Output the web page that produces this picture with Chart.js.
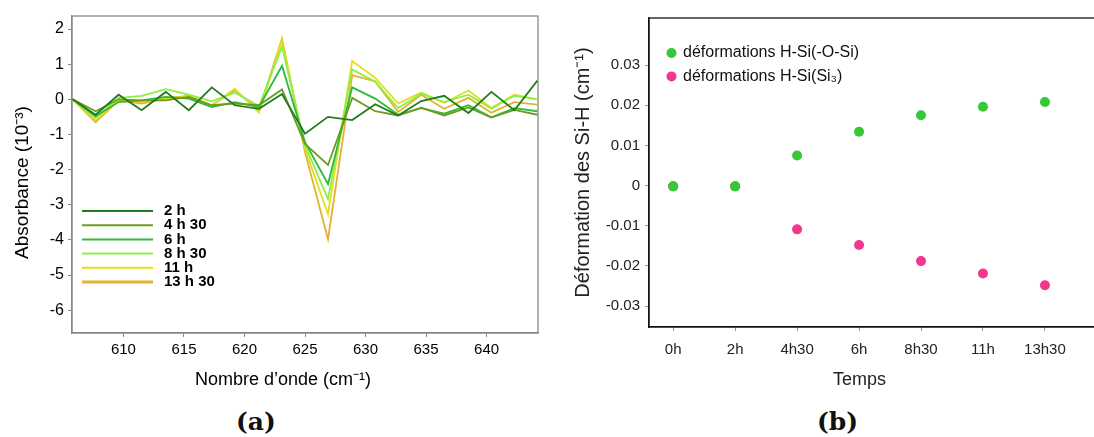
<!DOCTYPE html>
<html>
<head>
<meta charset="utf-8">
<script src="https://cdn.jsdelivr.net/npm/chart.js@4"></script>
<style>
  html, body { margin: 0; padding: 0; background: #fff; overflow: hidden; }
  body { width: 1094px; height: 437px; position: relative; }
  canvas { position: absolute; top: 0; }
  #chartA { left: 0; }
  #chartB { left: 560px; }
  .tag { position: absolute; top: 407px; font-family: "DejaVu Serif", serif; font-weight: bold; font-size: 25px; color: #111; }
</style>
</head>
<body>
<canvas id="chartA" width="545" height="400"></canvas>
<canvas id="chartB" width="560" height="400"></canvas>
<div class="tag" style="left:236px">(a)</div>
<div class="tag" style="left:817px">(b)</div>
<script>
// (a) spectres differentiels
var wavenumbers = [605.8, 607.7, 609.6, 611.5, 613.5, 615.4, 617.3, 619.2, 621.2, 623.1, 625.0,
                   626.9, 628.9, 630.8, 632.7, 634.6, 636.5, 638.5, 640.4, 642.3, 644.2];
var abs2h    = [0, -0.44, 0.13, -0.31, 0.21, -0.31, 0.34, -0.17, -0.27, 0.15, -0.98, -0.50, -0.59, -0.14, -0.46, -0.05, 0.10, -0.39, 0.21, -0.31, 0.53];
var abs4h30  = [0, -0.34, 0.00, -0.03, -0.03, 0.07, -0.17, -0.12, -0.17, 0.28, -1.27, -1.87, 0.04, -0.34, -0.46, -0.24, -0.46, -0.23, -0.52, -0.30, -0.44];
var abs6h    = [0, -0.48, -0.08, -0.03, 0.07, 0.02, -0.22, -0.08, -0.22, 0.95, -1.22, -2.41, 0.34, 0.02, -0.44, -0.25, -0.41, -0.17, -0.51, -0.25, -0.34];
var abs8h30  = [0, -0.53, 0.04, 0.10, 0.29, 0.13, -0.06, 0.19, -0.19, 1.50, -1.31, -2.84, 0.85, 0.50, -0.25, 0.16, -0.08, 0.13, -0.27, 0.10, 0.00];
var abs11h   = [0, -0.60, 0.00, -0.08, 0.04, 0.07, -0.17, 0.30, -0.38, 1.69, -1.41, -3.27, 1.09, 0.61, -0.12, 0.19, -0.10, 0.25, -0.25, 0.13, 0.00];
var abs13h30 = [0, -0.65, -0.03, -0.12, 0.02, 0.10, -0.17, 0.26, -0.31, 1.73, -1.50, -3.98, 0.69, 0.51, -0.36, 0.13, -0.27, 0.04, -0.38, -0.08, -0.15];
var seriesNames = ['2 h', '4 h 30', '6 h', '8 h 30', '11 h', '13 h 30'];
var seriesColors = ['#1e7d1e', '#6e9c1e', '#2dbb3a', '#8df04a', '#e6dc1c', '#e2b232'];
var xTicksA = [610, 615, 620, 625, 630, 635, 640];
var yTicksA = [-6, -5, -4, -3, -2, -1, 0, 1, 2];

// (b) deformations
var timeLabels = ['0h', '2h', '4h30', '6h', '8h30', '11h', '13h30'];
var defOSi  = [-0.0002, -0.0002, 0.0075, 0.0134, 0.0175, 0.0196, 0.0208];
var defSi3  = [-0.0002, -0.0002, -0.0109, -0.0148, -0.0188, -0.0219, -0.0248];
var yTicksB = [-0.03, -0.02, -0.01, 0, 0.01, 0.02, 0.03];

var sans = '"Liberation Sans", Arial, sans-serif';

function toPoints(ys, xs) {
    return ys.map(function(y, i) { return {x: xs[i], y: y}; });
}

// cadre complet autour de la zone de tracé
function boxPlugin(color) {
    return {
        id: 'box',
        beforeDatasetsDraw: function(chart) {
            var a = chart.chartArea, c = chart.ctx;
            c.save();
            c.strokeStyle = color;
            c.lineWidth = 1.3;
            c.strokeRect(a.left, a.top, a.right - a.left, a.bottom - a.top);
            c.restore();
        }
    };
}

// titres d'axes, un peu décalés du centre comme sur la figure
function titlesPlugin(xt, yt, color) {
    return {
        id: 'titles',
        afterDraw: function(chart) {
            var a = chart.chartArea, c = chart.ctx;
            c.save();
            c.fillStyle = color;
            c.textAlign = 'center';
            c.textBaseline = 'middle';
            c.font = xt.size + 'px ' + sans;
            c.fillText(xt.text, (a.left + a.right) / 2 + xt.dx, xt.y);
            c.translate(yt.x, (a.top + a.bottom) / 2 + yt.dy);
            c.rotate(-Math.PI / 2);
            c.font = yt.size + 'px ' + sans;
            c.fillText(yt.text, 0, 0);
            c.restore();
        }
    };
}

var legendA = {
    id: 'legendA',
    afterDatasetsDraw: function(chart) {
        var a = chart.chartArea, c = chart.ctx;
        c.save();
        c.font = 'bold 15px ' + sans;
        c.textBaseline = 'middle';
        chart.data.datasets.forEach(function(ds, i) {
            var y = a.top + 195 + i * 14.2;
            c.strokeStyle = ds.borderColor;
            c.lineWidth = i === 5 ? 3 : 2;
            c.beginPath();
            c.moveTo(a.left + 10, y);
            c.lineTo(a.left + 81, y);
            c.stroke();
            c.fillStyle = '#000';
            c.fillText(ds.label, a.left + 92, y);
        });
        c.restore();
    }
};

var legendB = {
    id: 'legendB',
    afterDatasetsDraw: function(chart) {
        var a = chart.chartArea, c = chart.ctx;
        c.save();
        c.font = '16px ' + sans;
        c.textBaseline = 'middle';
        chart.data.datasets.forEach(function(ds, i) {
            var y = a.top + 35 + i * 23.4;
            c.fillStyle = ds.backgroundColor;
            c.beginPath();
            c.arc(a.left + 22.5, y, 5, 0, Math.PI * 2);
            c.fill();
            c.fillStyle = '#111';
            c.fillText(ds.label, a.left + 34, y);
        });
        c.restore();
    }
};

var seriesA = [abs2h, abs4h30, abs6h, abs8h30, abs11h, abs13h30];

new Chart(document.getElementById('chartA'), {
    type: 'line',
    data: {
        datasets: seriesA.map(function(vals, i) {
            return {
                label: seriesNames[i],
                data: toPoints(vals, wavenumbers),
                borderColor: seriesColors[i],
                borderWidth: 1.8,
                pointRadius: 0,
                tension: 0,
                fill: false
            };
        })
    },
    options: {
        responsive: false,
        animation: false,
        layout: { padding: { left: 0, top: 16, right: 7, bottom: 0 } },
        plugins: { legend: { display: false }, tooltip: { enabled: false } },
        scales: {
            x: {
                type: 'linear',
                min: 605.75,
                max: 644.25,
                afterFit: function(s) { s.height = 67; },
                afterBuildTicks: function(s) { s.ticks = xTicksA.map(function(v) { return {value: v}; }); },
                grid: { drawOnChartArea: false, tickLength: 4, color: '#888' },
                border: { color: '#888', width: 1.3 },
                ticks: { font: { family: sans, size: 15 }, color: '#000', padding: 4, maxRotation: 0 }
            },
            y: {
                min: -6.65,
                max: 2.37,
                afterFit: function(s) { s.width = 72; },
                afterBuildTicks: function(s) { s.ticks = yTicksA.map(function(v) { return {value: v}; }); },
                grid: { drawOnChartArea: false, tickLength: 4, color: '#888' },
                border: { color: '#888', width: 1.3 },
                ticks: { font: { family: sans, size: 16 }, color: '#000', padding: 4 }
            }
        }
    },
    plugins: [
        boxPlugin('#888'),
        legendA,
        titlesPlugin({ text: 'Nombre d\u2019onde (cm\u207B\u00B9)', size: 18, dx: -22, y: 380 },
                     { text: 'Absorbance (10\u207B\u00B3)', size: 19, x: 23, dy: 8 }, '#000')
    ]
});

var categoryIdx = timeLabels.map(function(t, i) { return i; });

new Chart(document.getElementById('chartB'), {
    type: 'scatter',
    data: {
        datasets: [
            { label: 'déformations H-Si(-O-Si)', data: toPoints(defOSi, categoryIdx), backgroundColor: '#36c936', borderWidth: 0, pointRadius: 5 },
            { label: 'déformations H-Si(Si\u2083)', data: toPoints(defSi3, categoryIdx), backgroundColor: '#f5368f', borderWidth: 0, pointRadius: 5 }
        ]
    },
    options: {
        responsive: false,
        animation: false,
        layout: { padding: { left: 0, top: 18, right: 10, bottom: 0 } },
        plugins: { legend: { display: false }, tooltip: { enabled: false } },
        scales: {
            x: {
                type: 'linear',
                min: -0.39,
                max: 7.05,
                afterFit: function(s) { s.height = 73; },
                afterBuildTicks: function(s) { s.ticks = categoryIdx.map(function(v) { return {value: v}; }); },
                grid: { drawOnChartArea: false, tickLength: 4, color: '#999' },
                border: { color: '#111', width: 1.3 },
                ticks: { font: { family: sans, size: 15 }, color: '#222', padding: 10, maxRotation: 0,
                         callback: function(v) { return timeLabels[v]; } }
            },
            y: {
                min: -0.0352,
                max: 0.0417,
                afterFit: function(s) { s.width = 89; },
                afterBuildTicks: function(s) { s.ticks = yTicksB.map(function(v) { return {value: v}; }); },
                grid: { drawOnChartArea: false, tickLength: 4, color: '#999' },
                border: { color: '#111', width: 1.3 },
                ticks: { font: { family: sans, size: 15 }, color: '#222', padding: 5,
                         callback: function(v) { return v === 0 ? '0' : v.toFixed(2); } }
            }
        }
    },
    plugins: [
        boxPlugin('#111'),
        legendB,
        titlesPlugin({ text: 'Temps', size: 18, dx: -20, y: 380 },
                     { text: 'Déformation des Si-H (cm\u207B\u00B9)', size: 20, x: 23, dy: 0 }, '#222')
    ]
});
</script>
</body>
</html>
